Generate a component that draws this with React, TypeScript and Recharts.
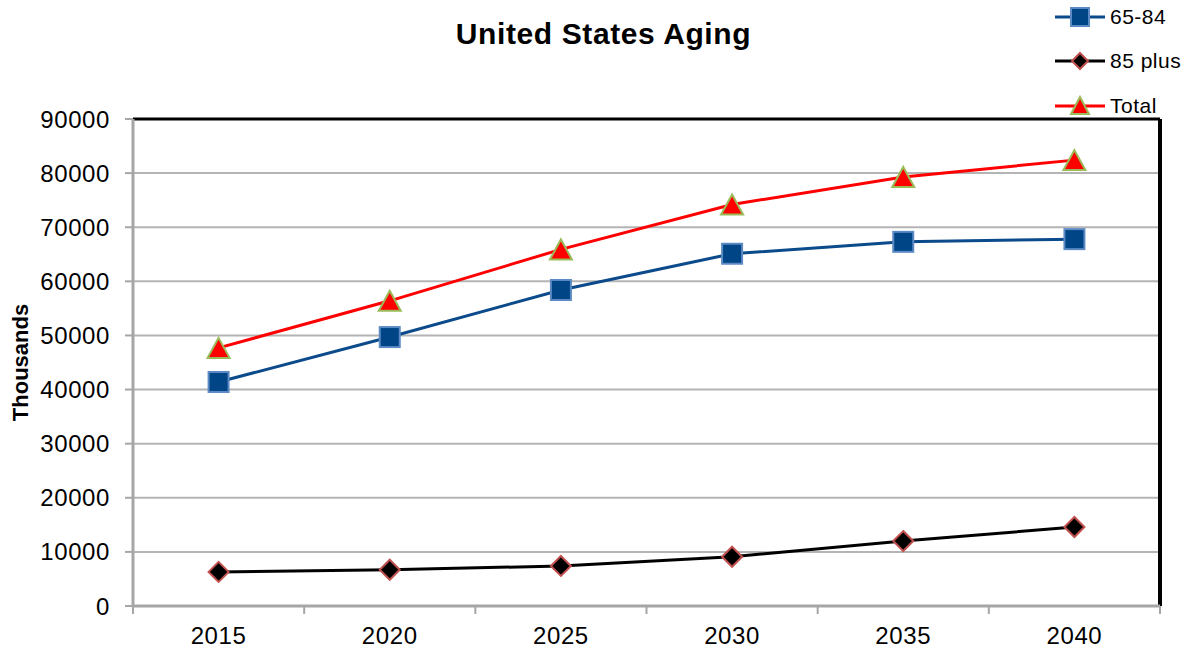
import React from 'react';
import { LineChart, Line, XAxis, YAxis, CartesianGrid, ReferenceLine } from 'recharts';

// values in thousands
const years = [2015, 2020, 2025, 2030, 2035, 2040];
const ages65to84 = [41400, 49700, 58400, 65100, 67300, 67800];
const ages85plus = [6300, 6700, 7400, 9100, 12000, 14600];
const totalAged = [47700, 56400, 65900, 74200, 79300, 82400];
const yTicks = [0, 10000, 20000, 30000, 40000, 50000, 60000, 70000, 80000, 90000];
const yearEdges = [2012.5, 2017.5, 2022.5, 2027.5, 2032.5, 2037.5, 2042.5];

const chartData = years.map((year, i) => ({
  year,
  young: ages65to84[i],
  old: ages85plus[i],
  total: totalAged[i],
}));

const FONT = '"Liberation Sans", Arial, sans-serif';
const GRID = '#b4b4b4';
const AXIS = '#a6a6a6';
const BLUE = '#0b4a8b';

const W = 1191;
const H = 654;
const MARGIN = { top: 119, right: 31, bottom: 0, left: 0 };
const Y_AXIS_W = 133;
// half of one category slot, in px
const HALF_SLOT = (W - MARGIN.right - Y_AXIS_W) / years.length / 2;

const SquareDot = (props: any) => {
  const { cx, cy, index } = props;
  if (cx == null || cy == null) return null;
  return <rect key={index} x={cx - 10} y={cy - 10} width={20} height={20} fill="#004586" stroke="#5b8ac4" strokeWidth={2} />;
};

const DiamondDot = (props: any) => {
  const { cx, cy, index } = props;
  if (cx == null || cy == null) return null;
  return (
    <path key={index} d={`M${cx},${cy - 10}L${cx + 10},${cy}L${cx},${cy + 10}L${cx - 10},${cy}Z`}
      fill="#000" stroke="#c0504d" strokeWidth={2} />
  );
};

const TriangleDot = (props: any) => {
  const { cx, cy, index } = props;
  if (cx == null || cy == null) return null;
  return (
    <path key={index} d={`M${cx},${cy - 10}L${cx + 11},${cy + 10}L${cx - 11},${cy + 10}Z`}
      fill="#ff0000" stroke="#9bbb59" strokeWidth={2} strokeLinejoin="miter" />
  );
};

// x tick marks sit on the slot edges, the year label in the middle of the slot
const YearTick = (props: any) => {
  const { x, y, index } = props;
  const label = years[index];
  if (label == null) return <g />;
  return (
    <text x={x + HALF_SLOT} y={y} dy="0.71em" textAnchor="middle" fill="#000"
      fontSize={24} fontFamily={FONT} letterSpacing={0.6}>
      {label}
    </text>
  );
};

const legendItems = [
  { name: '65-84', color: BLUE, marker: 'square' },
  { name: '85 plus', color: '#000', marker: 'diamond' },
  { name: 'Total', color: '#ff0000', marker: 'triangle' },
];

const LegendIcon = ({ color, marker }: { color: string; marker: string }) => (
  <svg width={52} height={24}>
    <line x1={1} y1={12} x2={51} y2={12} stroke={color} strokeWidth={3} />
    {marker === 'square' && <rect x={17} y={3} width={18} height={18} fill="#004586" stroke="#5b8ac4" strokeWidth={2} />}
    {marker === 'diamond' && <path d="M26,4L34,12L26,20L18,12Z" fill="#000" stroke="#c0504d" strokeWidth={2} />}
    {marker === 'triangle' && <path d="M26,3L35,20L17,20Z" fill="#ff0000" stroke="#9bbb59" strokeWidth={2} />}
  </svg>
);

const YLabel = (props: any) => {
  const vb = props.viewBox || { x: 0, y: 119, width: 133, height: 487 };
  const cy = vb.y + vb.height / 2;
  return (
    <text x={28} y={cy} transform={`rotate(-90, 28, ${cy})`} textAnchor="middle"
      fontFamily={FONT} fontSize={22} fontWeight="bold" fill="#000">
      Thousands
    </text>
  );
};

const App: React.FC = () => {
  const domain = [yearEdges[0], yearEdges[yearEdges.length - 1]];
  return (
    <div style={{ position: 'absolute', left: 0, top: 0, width: W, height: H, background: '#fff', fontFamily: FONT }}>
      <div style={{ position: 'absolute', left: 0, top: 19, width: 1207, textAlign: 'center', fontSize: 30, lineHeight: '30px', fontWeight: 'bold', letterSpacing: 0.6, color: '#000' }}>
        United States Aging
      </div>
      {legendItems.map((item, i) => (
        <div key={item.name} style={{ position: 'absolute', left: 1054, top: [5, 49, 94][i], height: 24, display: 'flex', alignItems: 'center', fontSize: 21, letterSpacing: 0.5, color: '#000', whiteSpace: 'nowrap' }}>
          <LegendIcon color={item.color} marker={item.marker} />
          <span style={{ marginLeft: 4 }}>{item.name}</span>
        </div>
      ))}
      <LineChart width={W} height={H} data={chartData} margin={MARGIN}>
        <CartesianGrid vertical={false} stroke={GRID} strokeWidth={2} />
        <XAxis type="number" dataKey="year" domain={domain} ticks={yearEdges} interval={0}
          tickSize={8} tickMargin={13} height={48} tick={<YearTick />}
          tickLine={{ stroke: AXIS, strokeWidth: 2 }}
          axisLine={{ stroke: AXIS, strokeWidth: 3 }} />
        <YAxis domain={[0, 90000]} ticks={yTicks} interval={0} width={Y_AXIS_W} tickSize={8} tickMargin={15}
          axisLine={{ stroke: AXIS, strokeWidth: 3 }} tickLine={{ stroke: AXIS, strokeWidth: 2 }}
          tick={{ fill: '#000', fontSize: 24, fontFamily: FONT, letterSpacing: 0.6 }}
          label={<YLabel />} />
        <ReferenceLine y={90000} stroke="#000" strokeWidth={3} />
        <ReferenceLine x={yearEdges[yearEdges.length - 1]} stroke="#000" strokeWidth={4} />
        <Line dataKey="old" name="85 plus" stroke="#000" strokeWidth={3} dot={DiamondDot} activeDot={false} isAnimationActive={false} />
        <Line dataKey="young" name="65-84" stroke={BLUE} strokeWidth={3} dot={SquareDot} activeDot={false} isAnimationActive={false} />
        <Line dataKey="total" name="Total" stroke="#ff0000" strokeWidth={3} dot={TriangleDot} activeDot={false} isAnimationActive={false} />
      </LineChart>
    </div>
  );
};

export default App;
